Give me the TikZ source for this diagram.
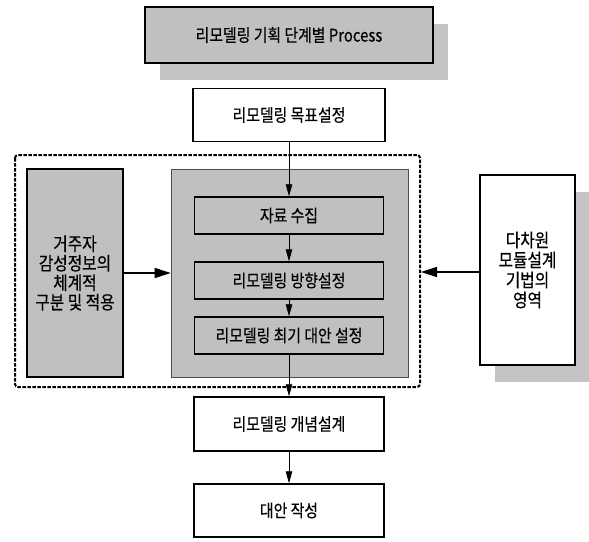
\documentclass[tikz,border=0pt]{standalone}
\usepackage{fontspec}
\setmainfont{Noto Sans CJK KR}
\newfontfamily\kf[FakeStretch=0.85,FakeBold=0.4]{Noto Sans CJK KR}
\usetikzlibrary{arrows.meta,shadows}
\definecolor{boxgray}{HTML}{C0C0C0}
\definecolor{shadegray}{HTML}{C4C4C4}
\tikzset{
  box/.style={draw=black, line width=1.4pt, fill=white, rectangle, inner sep=0pt, align=center, font=\kf\fontsize{17.5}{19}\selectfont},
  graybox/.style={box, fill=boxgray},
  shadowed/.style={drop shadow={shadow xshift=15pt, shadow yshift=-17pt, fill=shadegray, opacity=1}},
  flow/.style={draw=black, line width=0.8pt, -{Triangle[width=6.5pt,length=12pt]}},
  side/.style={draw=black, line width=1.4pt, -{Triangle[width=10pt,length=16pt]}},
}
\begin{document}
\begin{tikzpicture}[x=1pt,y=-1pt]
\useasboundingbox (0,0) rectangle (589,541);
% title
\node[graybox, shadowed, minimum width=288pt, minimum height=56pt, font=\kf\fontsize{17.5}{19}\selectfont] (title) at (289,35) {리모델링 기획 단계별 Process};
% goal
\node[box, minimum width=192pt, minimum height=53pt] (goal) at (289,115) {리모델링 목표설정};
% dashed frame
\draw[line width=2pt, dash pattern=on 3.5pt off 1.5pt, rounded corners=3pt] (15,155) rectangle (420,387);
% inner gray panel
\node[draw=black!70, line width=0.6pt, fill=boxgray, minimum width=237pt, minimum height=208pt, inner sep=0pt] (panel) at (289.5,273) {};
% left box
\node[graybox, minimum width=96pt, minimum height=208pt, font=\kf\fontsize{18.5}{19.5}\selectfont] (left) at (75,273) {거주자\\감성정보의\\체계적\\구분 및 적용};
% sub boxes
\node[graybox, minimum width=189pt, minimum height=37pt] (s1) at (289,215.5) {자료 수집};
\node[graybox, minimum width=189pt, minimum height=37pt] (s2) at (289,280.5) {리모델링 방향설정};
\node[graybox, minimum width=189pt, minimum height=37pt] (s3) at (289,335.5) {리모델링 최기 대안 설정};
% right box
\node[box, shadowed, minimum width=95pt, minimum height=190pt, font=\kf\fontsize{18.5}{20}\selectfont] (right) at (527.5,270) {다차원\\모듈설계\\기법의\\영역};
\coordinate (frameR) at (421,272);
% lower boxes
\node[box, minimum width=190pt, minimum height=54pt] (concept) at (289,424) {리모델링 개념설계};
\node[box, minimum width=190pt, minimum height=53pt] (alt) at (289,510.5) {대안 작성};
% connectors
\draw[flow] (goal.south) -- (s1.north);
\draw[flow] (s1.south) -- (s2.north);
\draw[flow] (s2.south) -- (s3.north);
\draw[flow] (s3.south) -- (concept.north);
\draw[flow] (concept.south) -- (alt.north);
\draw[side] (left.east) -- (left.east -| panel.west);
\draw[side] (right.west |- frameR) -- (frameR);
\end{tikzpicture}
\end{document}
